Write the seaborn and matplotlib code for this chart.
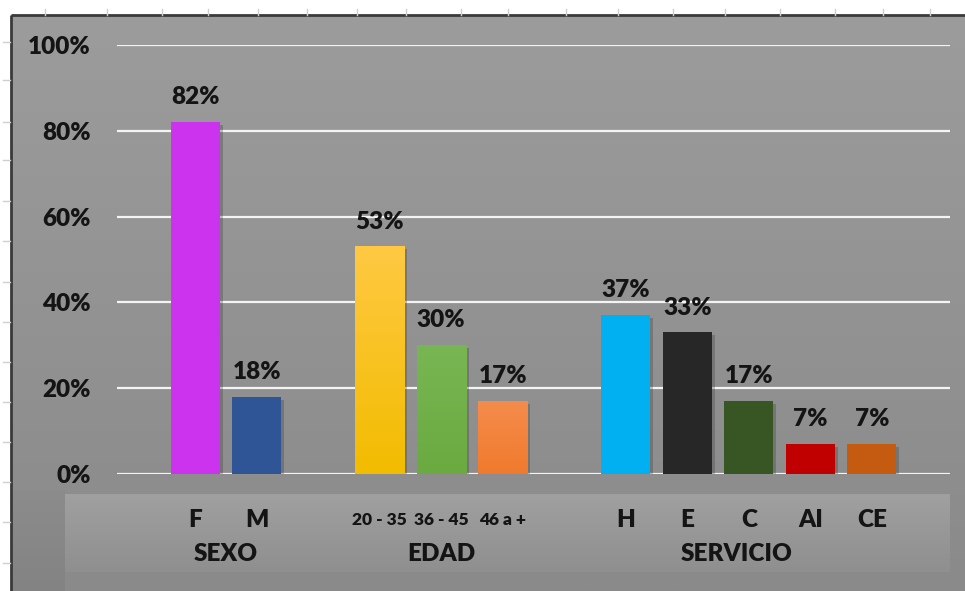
import numpy as np
import pandas as pd
import matplotlib
matplotlib.use("Agg")
import matplotlib.pyplot as plt
import seaborn as sns
from matplotlib.colors import to_rgb
from matplotlib import patheffects as pe

# ---- data -------------------------------------------------------------
categories = ["F", "M", "20 - 35", "36 - 45", "46 a +", "H", "E", "C", "AI", "CE"]
groups = ["SEXO", "SEXO", "EDAD", "EDAD", "EDAD",
          "SERVICIO", "SERVICIO", "SERVICIO", "SERVICIO", "SERVICIO"]
values = [82, 18, 53, 30, 17, 37, 33, 17, 7, 7]
group_names = ["SEXO", "EDAD", "SERVICIO"]
y_ticks = [0, 20, 40, 60, 80, 100]

# ---- styling ----------------------------------------------------------
palette = {
    "F": "#cc33ee", "M": "#2f5597",
    "20 - 35": "#f2bc00", "36 - 45": "#6aaa40", "46 a +": "#f07a2c",
    "H": "#00b0f0", "E": "#272727", "C": "#375623", "AI": "#c00000", "CE": "#c55a11",
}
gradient_top = {"20 - 35": "#ffc943", "36 - 45": "#78b653", "46 a +": "#f58c4c"}
small_labels = {"20 - 35", "36 - 45", "46 a +"}
TEXT = "#141414"
WEIGHT = "heavy"

plt.rcParams["font.family"] = ["Lato", "DejaVu Sans"]

W, H = 965, 591
fig = plt.figure(figsize=(W / 100, H / 100), dpi=100)
fig.patch.set_facecolor("white")

# ---- backdrop (pixel coordinates) -------------------------------------
bg = fig.add_axes([0, 0, 1, 1], zorder=-5)
bg.set_xlim(0, W)
bg.set_ylim(H, 0)
bg.axis("off")


def vgrad(ax, extent, top, bottom, z):
    t, b = np.array(to_rgb(top)), np.array(to_rgb(bottom))
    s = np.linspace(0, 1, 256)[:, None]
    img = (t * (1 - s) + b * s)[:, None, :]
    ax.imshow(img, extent=extent, aspect="auto", zorder=z, interpolation="bilinear")


vgrad(bg, (11, W, H, 15), "#9c9c9c", "#8a8a8a", 0)
# soft shading left of the category band
vgrad(bg, (11, 65, H, 490), "#8c8c8c", "#838383", 1)
# category band
vgrad(bg, (65, 950, 572, 494), "#a0a0a0", "#8f8f8f", 2)
bg.set_xlim(0, W)
bg.set_ylim(H, 0)

# frame lines
bg.plot([11, W], [15, 15], color="#3a3a3a", lw=2, zorder=3, solid_capstyle="butt")
bg.plot([11, 11], [15, H], color="#3a3a3a", lw=2, zorder=3, solid_capstyle="butt")
# sheet ruler ticks
for x in [45, 107, 162, 208, 258, 307, 357, 406, 461, 508, 566, 618, 673,
          725, 780, 835, 883, 930]:
    bg.plot([x, x], [9, 15], color="#cfcfcf", lw=1, zorder=3)
for y in [42, 80, 122, 160, 201, 241, 282, 322, 362, 402, 442, 482, 522, 563]:
    bg.plot([3, 10], [y, y], color="#cfcfcf", lw=1, zorder=3)

# ---- bars -------------------------------------------------------------
gidx = [group_names.index(g) for g in groups]
positions = [i + g for i, g in enumerate(gidx)]
df = pd.DataFrame({"category": categories, "group": groups,
                   "value": values, "pos": positions})

ax = fig.add_axes([117 / W, 1 - 474 / H, (950 - 117) / W, (474 - 45) / H])
ax.patch.set_alpha(0)
sns.barplot(data=df, x="pos", y="value", hue="category", hue_order=categories,
            palette=palette, native_scale=True, dodge=False, width=0.8,
            saturation=1, legend=False, edgecolor="none", ax=ax)

shadow = [pe.SimplePatchShadow(offset=(2, -2), shadow_rgbFace="#3a3a3a", alpha=0.3),
          pe.Normal()]
for patch in ax.patches:
    patch.set_path_effects(shadow)
    patch.set_zorder(3)

# vertical shading on the age bars
for cat, patch in zip(categories, [c.patches[0] for c in ax.containers]):
    if cat in gradient_top:
        x0, w, h = patch.get_x(), patch.get_width(), patch.get_height()
        vgrad(ax, (x0, x0 + w, 0, h), gradient_top[cat], palette[cat], 3.5)

ax.set_xlim(-1.27, 12.27)
ax.set_ylim(0, 100)

# value labels
for cont in ax.containers:
    ax.bar_label(cont, fmt="{:g}%", padding=10, fontsize=17.5,
                 fontweight=WEIGHT, color=TEXT, zorder=5)

# grid and y axis
ax.set_yticks(y_ticks)
ax.set_yticklabels([f"{t}%" for t in y_ticks], fontsize=17.5,
                   fontweight=WEIGHT, color=TEXT)
ax.yaxis.grid(True, color="#f4f4f4", lw=1.6)
ax.xaxis.grid(False)
ax.set_axisbelow(True)
ax.tick_params(axis="y", length=0, pad=19)
for s in ax.spines.values():
    s.set_visible(False)
ax.set_xlabel("")
ax.set_ylabel("")

# category labels
ax.set_xticks(positions)
ax.set_xticklabels(categories, fontweight=WEIGHT, color=TEXT)
ax.tick_params(axis="x", length=0, pad=33)
for lbl, cat in zip(ax.get_xticklabels(), categories):
    lbl.set_fontsize(12.5 if cat in small_labels else 17.5)
    lbl.set_va("center")

# group labels
group_shift = {"SEXO": 0.0, "EDAD": 0.0, "SERVICIO": -0.2}
for g in group_names:
    gx = np.mean([p for p, gg in zip(positions, groups) if gg == g]) + group_shift[g]
    ax.text(gx, -0.186, g, transform=ax.get_xaxis_transform(), ha="center",
            va="center", fontsize=17.5, fontweight=WEIGHT, color=TEXT)

fig.savefig("out.png", dpi=100, facecolor="white")
